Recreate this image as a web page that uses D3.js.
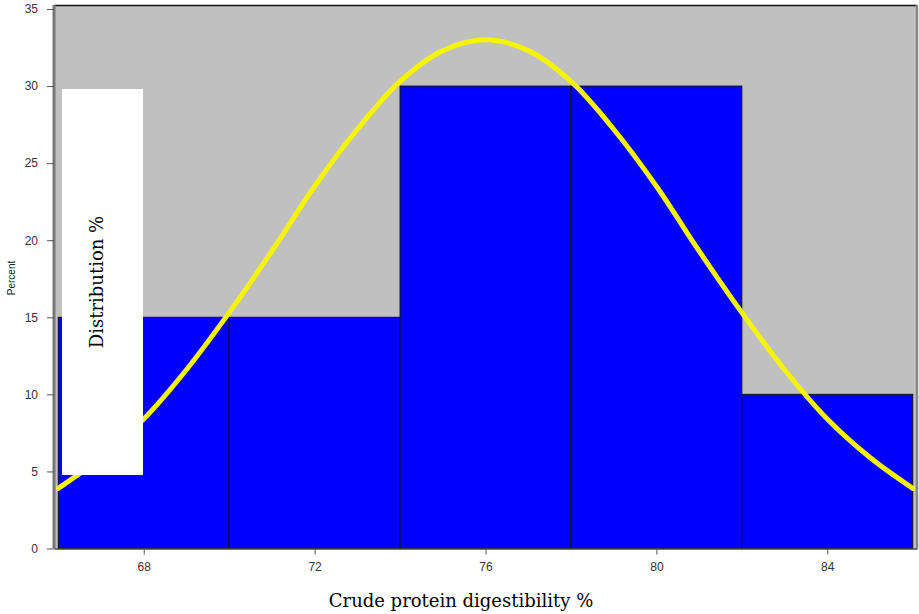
<!DOCTYPE html>
<html>
<head>
<meta charset="utf-8">
<script src="https://cdn.jsdelivr.net/npm/d3@7"></script>
<style>
  body { margin: 0; background: #fff; }
  svg { display: block; }
</style>
</head>
<body>
<div id="chart"></div>
<script>
// histogram bins (lower edge, upper edge) and percent
const binStart = [66, 70, 74, 78, 82];
const binEnd = [70, 74, 78, 82, 86];
const binPercent = [15, 15, 30, 30, 10];

// fitted normal curve
const curveX = [66, 67, 68, 69, 70, 71, 72, 73, 74, 75, 76, 77, 78, 79, 80, 81, 82, 83, 84, 85, 86];
const curveY = [3.9, 5.9, 8.4, 11.6, 15.3, 19.3, 23.5, 27.2, 30.3, 32.3, 33, 32.3, 30.3, 27.2, 23.5, 19.3, 15.3, 11.6, 8.4, 5.9, 3.9];

const xTicks = [68, 72, 76, 80, 84];
const yTicks = [0, 5, 10, 15, 20, 25, 30, 35];

const width = 919;
const height = 614;
const margin = { top: 5, right: 2, bottom: 65, left: 54 };

const svg = d3.select("#chart")
    .append("svg")
    .attr("width", width)
    .attr("height", height);

const x = d3.scaleLinear()
    .domain([65.9, 86.1])
    .range([margin.left, width - margin.right]);

const y = d3.scaleLinear()
    .domain([0, 35])
    .range([548.5, 9]);

// grey plot background
svg.append("rect")
    .attr("x", margin.left)
    .attr("y", margin.top)
    .attr("width", width - margin.right - margin.left)
    .attr("height", y(0) - margin.top)
    .attr("fill", "#c0c0c0");

// top border
svg.append("line")
    .attr("x1", margin.left).attr("x2", width - margin.right)
    .attr("y1", margin.top + 0.5).attr("y2", margin.top + 0.5)
    .attr("stroke", "#111").attr("stroke-width", 1.5);

// right border
svg.append("line")
    .attr("x1", width - margin.right).attr("x2", width - margin.right)
    .attr("y1", margin.top).attr("y2", y(0))
    .attr("stroke", "#888").attr("stroke-width", 2.5);

// bars
svg.append("g")
    .selectAll("rect")
    .data(binPercent)
    .join("rect")
    .attr("x", (d, i) => x(binStart[i]))
    .attr("y", d => y(d))
    .attr("width", (d, i) => x(binEnd[i]) - x(binStart[i]))
    .attr("height", d => y(0) - y(d))
    .attr("fill", "#0000ff")
    .attr("stroke", "#111")
    .attr("stroke-width", 1);

// normal curve
const line = d3.line()
    .x((d, i) => x(curveX[i]))
    .y(d => y(d))
    .curve(d3.curveCatmullRom);

svg.append("path")
    .datum(curveY)
    .attr("d", line)
    .attr("fill", "none")
    .attr("stroke", "#f5f500")
    .attr("stroke-width", 5)
    .attr("stroke-linecap", "round");

// y axis
const yAxis = svg.append("g")
    .attr("transform", `translate(${margin.left},0)`)
    .call(d3.axisLeft(y).tickValues(yTicks).tickSize(7).tickSizeOuter(0));
yAxis.select(".domain")
    .attr("stroke", "#777")
    .attr("stroke-width", 3)
    .attr("d", `M0,${margin.top}V${y(0)}`);
yAxis.selectAll(".tick line").attr("stroke", "#555");
yAxis.selectAll(".tick text")
    .attr("x", -16)
    .style("font-family", "Arial, 'Liberation Sans', sans-serif")
    .style("font-size", "12px")
    .style("fill", "#333");

// x axis
const xAxis = svg.append("g")
    .attr("transform", `translate(0,${y(0)})`)
    .call(d3.axisBottom(x).tickValues(xTicks).tickSize(6).tickSizeOuter(0));
xAxis.select(".domain").attr("stroke", "#444").attr("stroke-width", 1.5);
xAxis.selectAll(".tick line").attr("stroke", "#555");
xAxis.selectAll(".tick text")
    .attr("y", 14)
    .style("font-family", "Arial, 'Liberation Sans', sans-serif")
    .style("font-size", "12px")
    .style("fill", "#333");

// small y label
svg.append("text")
    .attr("transform", "translate(15,278) rotate(-90)")
    .attr("text-anchor", "middle")
    .style("font-family", "Arial, 'Liberation Sans', sans-serif")
    .style("font-size", "10px")
    .style("fill", "#222")
    .text("Percent");

// white label box over the plot
svg.append("rect")
    .attr("x", 62)
    .attr("y", 89)
    .attr("width", 81)
    .attr("height", 386)
    .attr("fill", "#fff");

svg.append("text")
    .attr("transform", "translate(103,282) rotate(-90)")
    .attr("text-anchor", "middle")
    .style("font-family", "'DejaVu Serif', serif")
    .style("font-size", "18px")
    .style("fill", "#000")
    .text("Distribution %");

// x title
svg.append("text")
    .attr("x", 461)
    .attr("y", 607)
    .attr("text-anchor", "middle")
    .style("font-family", "'DejaVu Serif', serif")
    .style("font-size", "18px")
    .style("fill", "#000")
    .text("Crude protein digestibility %");
</script>
</body>
</html>
